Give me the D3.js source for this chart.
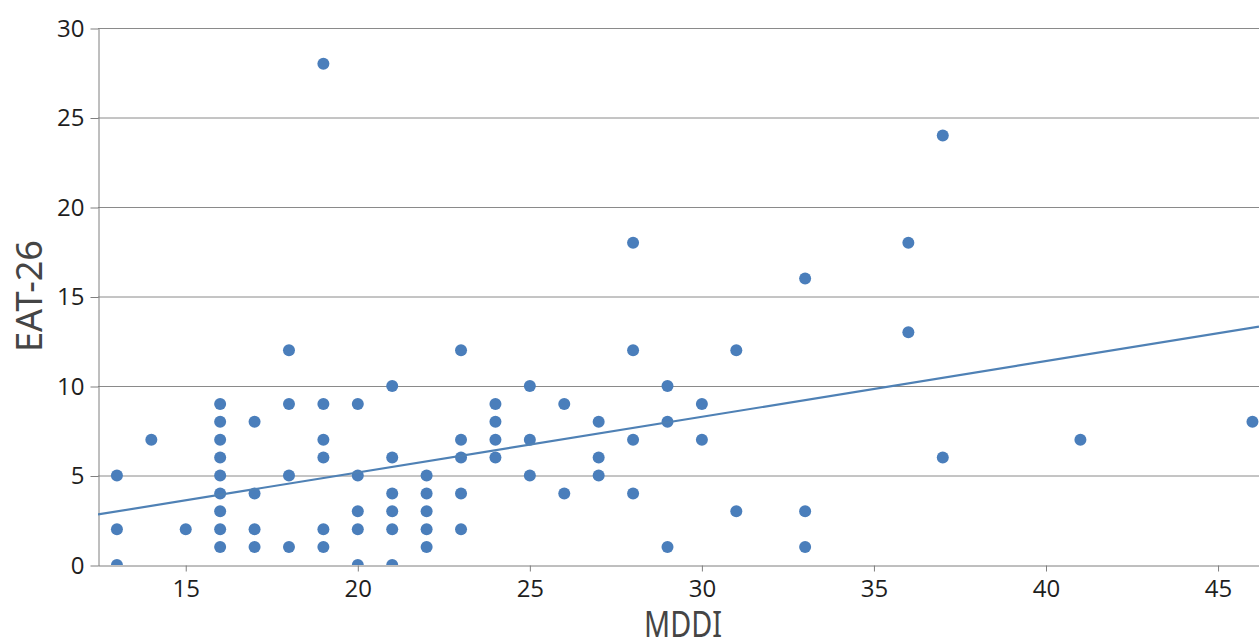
<!DOCTYPE html>
<html lang="en">
    <head>
        <meta charset="UTF-8">
        <script src="https://cdn.jsdelivr.net/npm/d3@7"></script>
        <title>EAT-26 vs MDDI</title>
        <style>
            body { margin: 0; background: #fff; }
            .axis .tick text { font-family: "Open Sans", "Noto Sans", sans-serif; font-size: 24px; fill: #1e1e1e; }
            .axis path, .axis line { stroke: #7f7f7f; }
            .grid line { stroke: #8a8a8a; }
            .title { font-family: "Noto Sans", "DejaVu Sans", sans-serif; font-size: 36px; fill: #454545; }
        </style>
    </head>
    <body>
        <div id="chart"></div>

        <script>
            // MDDI score for each respondent
            var mddi = [
                13, 13, 13, 14, 15,
                16, 16, 16, 16, 16, 16, 16, 16, 16,
                17, 17, 17, 17,
                18, 18, 18, 18,
                19, 19, 19, 19, 19, 19,
                20, 20, 20, 20, 20,
                21, 21, 21, 21, 21, 21,
                22, 22, 22, 22, 22,
                23, 23, 23, 23, 23,
                24, 24, 24, 24,
                25, 25, 25,
                26, 26,
                27, 27, 27,
                28, 28, 28, 28,
                29, 29, 29,
                30, 30,
                31, 31,
                33, 33, 33,
                36, 36,
                37, 37,
                41,
                46
            ];
            // EAT-26 score for each respondent
            var eat26 = [
                5, 2, 0, 7, 2,
                9, 8, 7, 6, 5, 4, 3, 2, 1,
                8, 4, 2, 1,
                12, 9, 5, 1,
                28, 9, 7, 6, 2, 1,
                9, 5, 3, 2, 0,
                10, 6, 4, 3, 2, 0,
                5, 4, 3, 2, 1,
                12, 7, 6, 4, 2,
                9, 8, 7, 6,
                10, 7, 5,
                9, 4,
                8, 6, 5,
                18, 12, 7, 4,
                10, 8, 1,
                9, 7,
                12, 3,
                16, 3, 1,
                18, 13,
                24, 6,
                7,
                8
            ];
            var xTicks = [15, 20, 25, 30, 35, 40, 45];
            var yTicks = [0, 5, 10, 15, 20, 25, 30];
            // trend line as drawn in the original (EAT-26 = a + b * MDDI)
            var trendIntercept = -1.05, trendSlope = 0.311;

            var width = 1259, height = 641;
            var pLeft = 98, pRight = 1259, pTop = 28, pBottom = 565;

            var x = d3.scaleLinear().domain([12.45, 46.19]).range([pLeft, pRight]);
            var y = d3.scaleLinear().domain([0, 30]).range([pBottom, pTop]);

            var svg = d3.select("#chart").append("svg")
                    .attr("width", width)
                    .attr("height", height);

            svg.append("clipPath").attr("id", "plot")
                    .append("rect")
                    .attr("x", pLeft).attr("y", pTop)
                    .attr("width", pRight - pLeft).attr("height", pBottom - pTop);

            // horizontal grid
            svg.append("g")
                    .classed("grid", true)
                    .selectAll("line")
                    .data(yTicks.slice(1))
                    .join("line")
                    .attr("x1", pLeft).attr("x2", pRight)
                    .attr("y1", d => y(d) + 0.5).attr("y2", d => y(d) + 0.5);

            // y axis
            svg.append("g")
                    .classed("axis", true)
                    .attr("transform", "translate(" + (pLeft + 0.5) + ",0.5)")
                    .call(d3.axisLeft(y).tickValues(yTicks).tickSize(8).tickPadding(6).tickSizeOuter(0));

            // x axis
            svg.append("g")
                    .classed("axis", true)
                    .attr("transform", "translate(0," + (pBottom + 0.5) + ")")
                    .call(d3.axisBottom(x).tickValues(xTicks).tickSize(6).tickPadding(8).tickSizeOuter(0));

            // points
            var pts = mddi.map((v, i) => [v, eat26[i]]);
            svg.append("g")
                    .attr("clip-path", "url(#plot)")
                    .selectAll("circle")
                    .data(pts)
                    .join("circle")
                    .attr("cx", d => x(d[0]))
                    .attr("cy", d => y(d[1]))
                    .attr("r", 6)
                    .attr("fill", "#4a7ebb");

            // trend line
            var x0 = x.domain()[0], x1 = x.domain()[1];
            svg.append("line")
                    .attr("clip-path", "url(#plot)")
                    .attr("x1", x(x0)).attr("y1", y(trendIntercept + trendSlope * x0))
                    .attr("x2", x(x1)).attr("y2", y(trendIntercept + trendSlope * x1))
                    .attr("stroke", "#4f81b5")
                    .attr("stroke-width", 2.2);

            // axis titles
            svg.append("text")
                    .classed("title", true)
                    .attr("transform", "translate(42,296) rotate(-90)")
                    .attr("text-anchor", "middle")
                    .attr("textLength", 112)
                    .attr("lengthAdjust", "spacingAndGlyphs")
                    .text("EAT-26");
            svg.append("text")
                    .classed("title", true)
                    .attr("x", 683).attr("y", 637)
                    .attr("text-anchor", "middle")
                    .attr("textLength", 78)
                    .attr("lengthAdjust", "spacingAndGlyphs")
                    .text("MDDI");
        </script>
    </body>
</html>
